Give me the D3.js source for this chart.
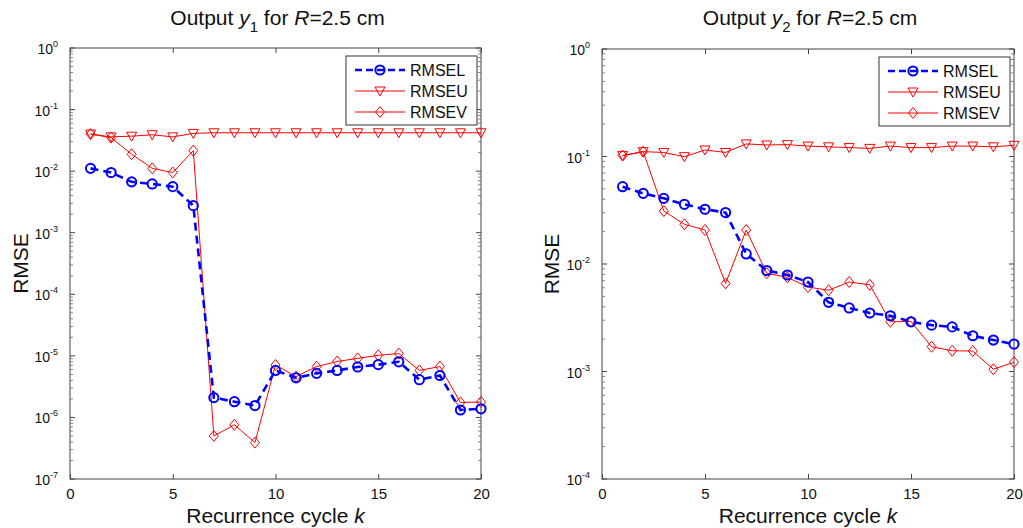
<!DOCTYPE html>
<html>
<head>
<meta charset="utf-8">
<script src="https://cdn.jsdelivr.net/npm/d3@7"></script>
<style>
  body { margin: 0; background: #fff; }
  svg { font-family: "Liberation Sans", Arial, sans-serif; }
</style>
</head>
<body>
<svg id="chart" width="1023" height="528"></svg>
<script>
// recurrence cycles
const cycles = [1, 2, 3, 4, 5, 6, 7, 8, 9, 10, 11, 12, 13, 14, 15, 16, 17, 18, 19, 20];
const xTicks = [0, 5, 10, 15, 20];

// output y1
const y1L = [0.0111, 0.0095, 0.0067, 0.0062, 0.0056, 0.00275, 2.1e-6, 1.8e-6, 1.56e-6, 5.8e-6,
             4.4e-6, 5.2e-6, 5.8e-6, 6.6e-6, 7.2e-6, 8.0e-6, 4.1e-6, 4.8e-6, 1.32e-6, 1.38e-6];
const y1U = [0.040, 0.036, 0.037, 0.039, 0.036, 0.041, 0.042, 0.042, 0.042, 0.042,
             0.042, 0.042, 0.042, 0.042, 0.042, 0.042, 0.042, 0.042, 0.042, 0.042];
const y1V = [0.040, 0.035, 0.0188, 0.0111, 0.0095, 0.0215, 5.0e-7, 7.6e-7, 3.9e-7, 7.1e-6,
             4.6e-6, 6.7e-6, 8.1e-6, 9.1e-6, 1.02e-5, 1.09e-5, 5.8e-6, 6.7e-6, 1.75e-6, 1.78e-6];

// output y2
const y2L = [0.0524, 0.0454, 0.0408, 0.0359, 0.0323, 0.0301, 0.0124, 0.0087, 0.0079, 0.0068,
             0.0044, 0.0039, 0.0035, 0.0033, 0.0029, 0.0027, 0.0026, 0.00215, 0.00196, 0.0018];
const y2U = [0.102, 0.111, 0.109, 0.0996, 0.115, 0.109, 0.131, 0.128, 0.129, 0.125,
             0.123, 0.121, 0.119, 0.125, 0.121, 0.121, 0.125, 0.125, 0.123, 0.127];
const y2V = [0.102, 0.111, 0.0311, 0.0234, 0.0207, 0.0066, 0.0207, 0.0082, 0.0075, 0.0061,
             0.0057, 0.0068, 0.0064, 0.0029, 0.00292, 0.0017, 0.00156, 0.00155, 0.00105, 0.00122];

const seriesNames = ["RMSEL", "RMSEU", "RMSEV"];

const svg = d3.select("#chart");

// marker shapes
const markers = {
  circle: g => g.append("circle").attr("r", 4.6).attr("fill", "none").attr("stroke", "#0000ff").attr("stroke-width", 2),
  tri: g => g.append("path").attr("d", "M-5,-4L5,-4L0,5Z").attr("fill", "none").attr("stroke", "#ff0000").attr("stroke-width", 1),
  diamond: g => g.append("path").attr("d", "M0,-5.5L4.5,0L0,5.5L-4.5,0Z").attr("fill", "none").attr("stroke", "#ff0000").attr("stroke-width", 1)
};

function drawPanel(opts) {
  const { left, right, top, bottom, domain, decades, sub, data, ylabX } = opts;
  const x = d3.scaleLinear().domain([0, 20]).range([left, right]);
  const y = d3.scaleLog().domain(domain).range([bottom, top]);
  const g = svg.append("g");

  // title
  const title = g.append("text")
    .attr("x", (left + right) / 2 + 2).attr("y", 25)
    .attr("text-anchor", "middle").attr("font-size", 21).attr("fill", "#111");
  title.append("tspan").text("Output ");
  title.append("tspan").attr("font-style", "italic").text("y");
  title.append("tspan").attr("dy", 7).attr("font-size", 15).text(sub);
  title.append("tspan").attr("dy", -7).text(" for ");
  title.append("tspan").attr("font-style", "italic").text("R");
  title.append("tspan").text("=2.5 cm");

  // frame
  g.append("rect")
    .attr("x", left).attr("y", top)
    .attr("width", right - left).attr("height", bottom - top)
    .attr("fill", "none").attr("stroke", "#444").attr("stroke-width", 1);

  // x axis
  const xAxis = g.append("g").attr("transform", `translate(0,${bottom})`)
    .call(d3.axisBottom(x).tickValues(xTicks).tickSize(-5).tickPadding(9).tickFormat(d3.format("d")));
  xAxis.select(".domain").remove();
  xAxis.selectAll("line").attr("stroke", "#444");
  xAxis.selectAll("text").attr("font-size", 15).attr("fill", "#111")
    .attr("font-family", "Liberation Sans, Arial, sans-serif");
  const xTop = g.append("g").attr("transform", `translate(0,${top})`)
    .call(d3.axisTop(x).tickValues(xTicks).tickSize(-5).tickFormat(""));
  xTop.select(".domain").remove();
  xTop.selectAll("line").attr("stroke", "#444");

  // y axis, major + minor ticks on both sides
  const majors = d3.range(decades[0], decades[1] + 1).map(e => Math.pow(10, e));
  const minors = y.ticks().filter(v => !majors.some(m => Math.abs(m - v) / m < 1e-9));
  [[left, 1], [right, -1]].forEach(([px, dir]) => {
    g.selectAll(null).data(majors).enter().append("line")
      .attr("x1", px).attr("x2", px + dir * 5)
      .attr("y1", d => y(d)).attr("y2", d => y(d))
      .attr("stroke", "#444");
    g.selectAll(null).data(minors).enter().append("line")
      .attr("x1", px).attr("x2", px + dir * 3)
      .attr("y1", d => y(d)).attr("y2", d => y(d))
      .attr("stroke", "#666").attr("stroke-width", 0.8);
  });
  const yl = g.selectAll(null).data(majors).enter().append("text")
    .attr("x", left - 12).attr("y", d => y(d) + 6)
    .attr("text-anchor", "end").attr("font-size", 14).attr("fill", "#111");
  yl.append("tspan").text("10");
  yl.append("tspan").attr("dy", -7).attr("font-size", 9)
    .text(d => String(Math.round(Math.log10(d))));

  // axis labels
  const xl = g.append("text")
    .attr("x", (left + right) / 2).attr("y", 523)
    .attr("text-anchor", "middle").attr("font-size", 21).attr("fill", "#111");
  xl.append("tspan").text("Recurrence cycle ");
  xl.append("tspan").attr("font-style", "italic").text("k");
  g.append("text")
    .attr("transform", `translate(${ylabX},${(top + bottom) / 2}) rotate(-90)`)
    .attr("text-anchor", "middle").attr("font-size", 21).attr("fill", "#111")
    .text("RMSE");

  const clipId = "clip" + left;
  g.append("clipPath").attr("id", clipId).append("rect")
    .attr("x", left).attr("y", top - 10).attr("width", right - left + 10).attr("height", bottom - top + 10);

  const line = d3.line().x((d, i) => x(cycles[i])).y(d => y(d));
  const plot = g.append("g").attr("clip-path", `url(#${clipId})`);

  // RMSEV (red diamonds), RMSEU (red triangles), RMSEL (blue dashed circles)
  const layers = [
    { vals: data[2], color: "#ff0000", width: 1, dash: null, mk: "diamond" },
    { vals: data[1], color: "#ff0000", width: 1, dash: null, mk: "tri" },
    { vals: data[0], color: "#0000ff", width: 2.6, dash: "8,5", mk: "circle" }
  ];
  layers.forEach(s => {
    plot.append("path").datum(s.vals)
      .attr("d", line).attr("fill", "none")
      .attr("stroke", s.color).attr("stroke-width", s.width)
      .attr("stroke-dasharray", s.dash);
    plot.selectAll(null).data(s.vals).enter().append("g")
      .attr("transform", (d, i) => `translate(${x(cycles[i])},${y(d)})`)
      .each(function () { markers[s.mk](d3.select(this)); });
  });

  // legend
  const lx = right - 135, ly = top + 8;
  g.append("rect").attr("x", lx).attr("y", ly).attr("width", 131).attr("height", 69)
    .attr("fill", "#fff").attr("stroke", "#333").attr("stroke-width", 1);
  const legendStyle = [
    { color: "#0000ff", width: 2.6, dash: "7,4", mk: "circle" },
    { color: "#ff0000", width: 1, dash: null, mk: "tri" },
    { color: "#ff0000", width: 1, dash: null, mk: "diamond" }
  ];
  seriesNames.forEach((name, i) => {
    const cy = ly + 14 + i * 21;
    const st = legendStyle[i];
    g.append("line").attr("x1", lx + 9).attr("x2", lx + 59).attr("y1", cy).attr("y2", cy)
      .attr("stroke", st.color).attr("stroke-width", st.width).attr("stroke-dasharray", st.dash);
    markers[st.mk](g.append("g").attr("transform", `translate(${lx + 34},${cy})`));
    g.append("text").attr("x", lx + 64).attr("y", cy + 6)
      .attr("font-size", 16).attr("fill", "#111").text(name);
  });
}

drawPanel({ left: 70, right: 481, top: 48, bottom: 479, domain: [1e-7, 1], decades: [-7, 0],
            sub: "1", data: [y1L, y1U, y1V], ylabX: 28 });
drawPanel({ left: 602, right: 1014, top: 49, bottom: 479, domain: [1e-4, 1], decades: [-4, 0],
            sub: "2", data: [y2L, y2U, y2V], ylabX: 559 });
</script>
</body>
</html>
